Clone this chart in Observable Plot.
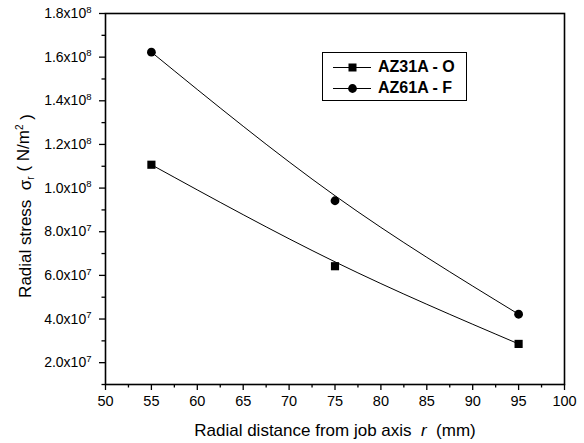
<!DOCTYPE html>
<html>
<head>
<meta charset="utf-8">
<script src="https://cdn.jsdelivr.net/npm/d3@7"></script>
<script src="https://cdn.jsdelivr.net/npm/@observablehq/plot@0.6"></script>
<style>
  html, body { margin: 0; padding: 0; background: #fff; }
  #wrap { position: relative; width: 584px; height: 443px; font-family: "Liberation Sans", Arial, sans-serif; }
  #legend { position: absolute; left: 322px; top: 52px; width: 145px; height: 49px; border: 1px solid #000; background: #fff; box-sizing: border-box; }
  .row { position: absolute; left: 9px; height: 20px; display: flex; align-items: center; font-weight: bold; font-size: 16px; color: #000; }
  .row svg { margin-right: 6px; }
</style>
</head>
<body>
<div id="wrap"></div>
<script>
// Data
const series = ["AZ31A - O", "AZ61A - F"];
const radius = [55, 75, 95];
const az31 = [1.107e8, 6.42e7, 2.86e7];
const az61 = [1.623e8, 9.42e7, 4.22e7];
// fitted curve values
const az31Fit = [1.107e8, 6.62e7, 2.86e7];
const az61Fit = [1.623e8, 9.65e7, 4.22e7];
const xTicks = [50, 55, 60, 65, 70, 75, 80, 85, 90, 95, 100];
const xMinor = [52.5, 57.5, 62.5, 67.5, 72.5, 77.5, 82.5, 87.5, 92.5, 97.5];
const yTicks = [2e7, 4e7, 6e7, 8e7, 1e8, 1.2e8, 1.4e8, 1.6e8, 1.8e8];
const yMinor = [1e7, 3e7, 5e7, 7e7, 9e7, 1.1e8, 1.3e8, 1.5e8, 1.7e8];
const xTitle = "Radial distance from job axis  r  (mm)";
const yTitle = "Radial stress  σr ( N/m2 )";

const pts = [];
const fit = [];
radius.forEach((r, i) => {
  pts.push({r, v: az31[i], s: series[0]});
  pts.push({r, v: az61[i], s: series[1]});
  fit.push({r, v: az31Fit[i], s: series[0]});
  fit.push({r, v: az61Fit[i], s: series[1]});
});

function fmtY(v) {
  const e = Math.floor(Math.log10(v) + 1e-9);
  const m = v / Math.pow(10, e);
  return m.toFixed(1) + "x10^" + e;
}

const chart = Plot.plot({
  width: 584,
  height: 443,
  marginLeft: 105,
  marginRight: 20,
  marginTop: 13,
  marginBottom: 59,
  style: {fontFamily: "'Liberation Sans', Arial, sans-serif", background: "#fff", color: "#000"},
  x: {domain: [50, 100]},
  y: {domain: [1e7, 1.8e8]},
  marks: [
    Plot.axisX({ticks: xTicks, tickSize: 6, tickPadding: 5, fontSize: 14.5, label: null, tickFormat: d => String(d), strokeWidth: 1.3}),
    Plot.axisX({ticks: xMinor, tickSize: 3.5, tickFormat: () => "", label: null, strokeWidth: 1.3}),
    Plot.axisY({ticks: yTicks, tickSize: 6, tickPadding: 8, fontSize: 14, label: null, tickFormat: fmtY, strokeWidth: 1.3}),
    Plot.axisY({ticks: yMinor, tickSize: 3.5, tickFormat: () => "", label: null, strokeWidth: 1.3}),
    Plot.frame({stroke: "#000", strokeWidth: 1.6}),
    Plot.line(fit, {x: "r", y: "v", z: "s", curve: "natural", stroke: "#000", strokeWidth: 1}),
    Plot.dot(pts.filter(d => d.s === series[0]), {x: "r", y: "v", symbol: "square", r: 4.6, fill: "#000", stroke: "none"}),
    Plot.dot(pts.filter(d => d.s === series[1]), {x: "r", y: "v", symbol: "circle", r: 4.4, fill: "#000", stroke: "none"}),
    Plot.text([xTitle], {frameAnchor: "bottom", dy: 51, fontSize: 17, text: d => d, fill: "#000", lineAnchor: "bottom", textAnchor: "middle"}),
    Plot.text([yTitle], {frameAnchor: "left", dx: -80, dy: 7, rotate: -90, fontSize: 17, text: d => d, fill: "#000", lineAnchor: "middle", textAnchor: "middle"})
  ]
});

document.getElementById("wrap").appendChild(chart);

// superscript exponents in y tick labels
d3.select(chart).selectAll('g[aria-label="y-axis tick label"] text').each(function() {
  const t = this.textContent;
  if (!t.includes("^")) return;
  const [base, exp] = t.split("^");
  const sel = d3.select(this);
  sel.text(null);
  sel.append("tspan").text(base);
  sel.append("tspan").attr("dy", "-0.55em").attr("font-size", "9.5").text(exp);
});

// axis titles: italic r, subscript r, superscript 2
d3.select(chart).selectAll("text").each(function() {
  const t = this.textContent;
  const sel = d3.select(this);
  if (t === xTitle) {
    sel.text(null);
    sel.append("tspan").text("Radial distance from job axis  ");
    sel.append("tspan").attr("font-style", "italic").text("r");
    sel.append("tspan").text("  (mm)");
  } else if (t === yTitle) {
    sel.text(null);
    sel.append("tspan").text("Radial stress  σ");
    sel.append("tspan").attr("dy", "0.35em").attr("font-size", "10").text("r");
    sel.append("tspan").attr("dy", "-0.35em").text(" ( N/m");
    sel.append("tspan").attr("dy", "-0.55em").attr("font-size", "10").text("2");
    sel.append("tspan").attr("dy", "0.55em").text(" )");
  }
});

// legend
const legend = document.createElement("div");
legend.id = "legend";
series.forEach((name, i) => {
  const row = document.createElement("div");
  row.className = "row";
  row.style.top = (4 + i * 21) + "px";
  const sym = i === 0
    ? '<rect x="16.5" y="6.5" width="8" height="8" fill="#000"/>'
    : '<circle cx="20.5" cy="10.5" r="4.4" fill="#000"/>';
  row.innerHTML = '<svg width="40" height="20"><line x1="1" x2="39" y1="10.5" y2="10.5" stroke="#000" stroke-width="1"/>' + sym + '</svg><span>' + name + '</span>';
  legend.appendChild(row);
});
document.getElementById("wrap").appendChild(legend);
</script>
</body>
</html>
